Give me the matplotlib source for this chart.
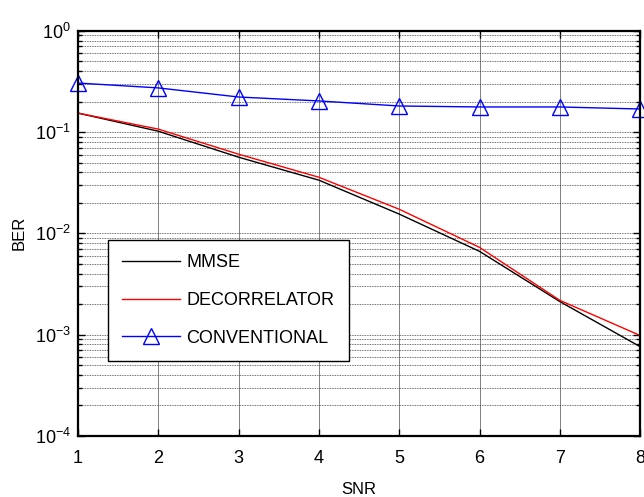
import matplotlib
matplotlib.use("Agg")
import matplotlib.pyplot as plt

plt.rcParams['font.family'] = ['Liberation Sans', 'DejaVu Sans']
plt.rcParams['mathtext.fontset'] = 'custom'
plt.rcParams['mathtext.rm'] = 'Liberation Sans'

snr = [1, 2, 3, 4, 5, 6, 7, 8]
ber_mmse = [0.154, 0.102, 0.0565, 0.0335, 0.0155, 0.00664, 0.00212, 0.00076]
ber_decorr = [0.154, 0.107, 0.0605, 0.0358, 0.0173, 0.00727, 0.00218, 0.00098]
ber_conv = [0.305, 0.273, 0.222, 0.203, 0.181, 0.177, 0.177, 0.169]

fig = plt.figure(figsize=(6.44, 4.97), dpi=100)
ax = fig.add_axes([0.121, 0.123, 0.873, 0.815])

ax.semilogy(snr, ber_mmse, color='black', lw=1, label='MMSE')
ax.semilogy(snr, ber_decorr, color='red', lw=1, label='DECORRELATOR')
ax.semilogy(snr, ber_conv, color='blue', lw=1, marker='^', ms=11,
            markerfacecolor='none', markeredgecolor='blue', markeredgewidth=1,
            label='CONVENTIONAL', clip_on=False)

ax.set_xlim(1, 8)
ax.set_ylim(1e-4, 1)
ax.set_xticks(snr)

# matlab-like grid: solid vertical, dotted horizontal incl. minor
ax.grid(True, which='major', axis='x', color='#808080', lw=0.7, ls='-')
ax.grid(True, which='major', axis='y', color='#404040', lw=0.6, ls=(0, (1, 1)))
ax.grid(True, which='minor', axis='y', color='#404040', lw=0.6, ls=(0, (1, 1)))

ax.tick_params(which='both', direction='in', top=True, right=True, labelsize=13)
ax.tick_params(which='major', length=5, width=1)
ax.tick_params(which='minor', length=3, width=1)
ax.tick_params(axis='x', pad=10)
ax.tick_params(axis='y', pad=5)
for s in ax.spines.values():
    s.set_linewidth(1.6)

ax.set_xlabel('SNR', fontsize=12, labelpad=11)
ax.set_ylabel('BER', fontsize=12, labelpad=6)

leg = ax.legend(loc='upper left', bbox_to_anchor=(0.053, 0.484), fontsize=13,
                fancybox=False, framealpha=1, edgecolor='black',
                handlelength=3.2, handletextpad=0.35, borderpad=0.8,
                labelspacing=1.15, borderaxespad=0)
leg.get_frame().set_linewidth(1)

fig.savefig('out.png', dpi=100)
